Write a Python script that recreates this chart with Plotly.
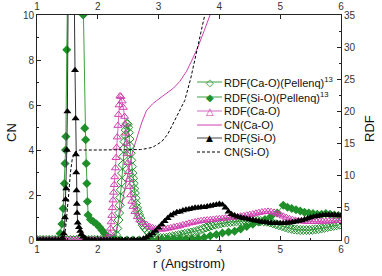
import plotly.graph_objects as go

# ---------------- data ----------------
# RDF(Si-O), this work (black filled triangles)
rdf_sio_r = [1.00,1.05,1.10,1.15,1.20,1.25,1.30,1.35,1.40,1.42,1.44,1.46,1.47,1.48,1.49,1.50,1.53,1.56,1.59,
             1.625,1.635,1.64,1.645,1.65,1.655,1.66,1.67,1.69,1.71,1.73,1.76,1.80,1.85,
             1.90,1.95,2.00,2.05,2.10,2.15,2.20,2.25,2.30,2.35,2.40,2.45,2.50,2.55,2.60,2.65,2.70,
             2.75,2.80,2.85,2.90,2.95,3.00,3.05,3.10,3.15,3.20,3.25,3.30,3.35,3.40,3.45,3.50,3.55,
             3.60,3.65,3.70,3.75,3.80,3.85,3.90,3.95,4.00,4.05,4.10,4.15,4.20,4.25,4.30,4.35,4.40,
             4.45,4.50,4.55,4.60,4.65,4.70,4.75,4.80,4.85,4.90,4.95,5.00,5.05,5.10,5.15,5.20,5.25,
             5.30,5.35,5.40,5.45,5.50,5.55,5.60,5.65,5.70,5.75,5.80,5.85,5.90,5.95,6.00]
rdf_sio_g = [0,0,0,0,0,0,0,0,0,0.3,1.0,3.5,6.3,8.0,14.0,20.0,60,110,60,
             26.4,18.9,13.3,10.5,7.7,5.6,4.2,2.7,2.0,1.4,0.9,0.5,0.2,0.05,
             0,0,0,0,0,0,0,0,0,0,0,0,0,0,0,0,0,
             0.2,0.4,0.7,1.0,1.4,1.9,2.4,2.9,3.4,3.8,4.1,4.3,4.4,4.6,4.7,4.8,4.9,
             5.0,5.0,5.1,5.1,5.2,5.3,5.4,5.5,5.6,5.5,5.0,4.4,4.0,3.8,3.6,3.5,3.4,
             3.3,3.2,3.1,3.0,2.9,2.8,2.75,2.7,2.65,2.6,2.6,2.6,2.6,2.65,2.7,2.75,2.85,
             2.95,3.05,3.2,3.35,3.5,3.6,3.7,3.8,3.85,3.9,3.9,3.9,3.9,3.85,3.8]

# RDF(Ca-O), this work (pink open triangles)
rdf_cao_r = [1.00,1.05,1.10,1.15,1.20,1.25,1.30,1.35,1.40,1.45,1.50,1.55,1.60,1.65,1.70,1.75,1.80,1.85,
             1.90,1.95,2.00,2.05,2.10,2.15,2.18,2.20,2.21,2.22,2.23,2.24,2.25,2.26,2.27,2.28,2.29,2.30,
             2.31,2.32,2.33,2.34,2.35,2.365,2.38,2.40,2.42,2.44,2.45,2.46,2.47,2.48,2.49,2.50,2.51,2.52,
             2.54,2.56,2.58,2.61,2.65,2.69,2.74,2.80,2.85,2.90,2.95,3.00,3.05,3.10,3.15,3.20,3.25,3.30,
             3.35,3.40,3.45,3.50,3.55,3.60,3.65,3.70,3.75,3.80,3.85,3.90,3.95,4.00,4.05,4.10,4.15,4.20,
             4.25,4.30,4.35,4.40,4.45,4.50,4.55,4.60,4.65,4.70,4.75,4.80,4.85,4.90,4.95,5.00,5.05,5.10,
             5.15,5.20,5.25,5.30,5.35,5.40,5.45,5.50,5.55,5.60,5.65,5.70,5.75,5.80,5.85,5.90,5.95,6.00]
rdf_cao_g = [0,0,0,0,0,0,0,0,0,0,0,0,0,0,0,0,0,0,
             0,0,0,0,0,0,0.3,1.0,1.8,2.8,3.8,5.0,6.2,7.4,8.6,9.8,11.2,12.8,
             14.4,16.0,17.8,19.5,21.0,22.4,22.3,21.6,20.6,19.2,18.0,16.6,15.0,13.4,12.0,10.6,9.4,8.3,
             7.0,6.0,5.2,4.4,3.6,3.1,2.7,2.4,2.1,1.9,1.75,1.7,1.65,1.7,1.8,1.9,2.0,2.1,
             2.2,2.35,2.45,2.6,2.7,2.8,2.9,3.0,3.05,3.1,3.15,3.2,3.25,3.3,3.35,3.4,3.45,3.5,
             3.55,3.6,3.7,3.75,3.85,3.95,4.05,4.15,4.25,4.35,4.4,4.45,4.4,4.3,4.1,3.9,3.7,3.5,
             3.3,3.15,3.05,3.0,2.95,2.9,2.85,2.85,2.85,2.85,2.9,2.9,2.9,2.95,2.95,3.0,3.0,3.0]

# RDF(Ca-O), Pellenq ref. 13 (green open diamonds)
pel_cao_r = [1.00,1.05,1.10,1.15,1.20,1.25,1.30,1.35,1.40,1.45,1.50,1.55,1.60,1.65,1.70,1.75,1.80,1.85,
             1.90,1.95,2.00,2.05,2.10,2.15,2.20,2.25,2.28,2.30,2.32,2.34,2.35,2.36,2.37,2.38,2.39,2.40,
             2.41,2.42,2.43,2.44,2.45,2.46,2.475,2.49,2.50,2.51,2.52,2.53,2.54,2.55,2.56,2.57,2.58,2.59,
             2.60,2.61,2.62,2.63,2.645,2.66,2.68,2.70,2.72,2.74,2.77,2.80,2.84,2.88,2.93,2.98,3.03,3.08,
             3.13,3.18,3.23,3.28,3.33,3.38,3.43,3.48,3.53,3.58,3.63,3.68,3.73,3.78,3.83,3.88,3.93,3.98,
             4.03,4.08,4.13,4.18,4.23,4.28,4.33,4.38,4.43,4.48,4.53,4.58,4.63,4.68,4.73,4.78,4.83,4.88,
             4.93,4.98,5.03,5.08,5.13,5.18,5.23,5.28,5.33,5.38,5.43,5.48,5.53,5.58,5.63,5.68,5.73,5.78,
             5.83,5.88,5.93,5.98]
pel_cao_g = [0,0,0,0,0,0,0,0,0,0,0,0,0,0,0,0,0,0,
             0,0,0,0,0,0,0,0,0.3,0.8,1.8,3.1,4.2,5.4,6.6,7.8,9.0,10.4,
             11.7,13.0,14.2,15.3,16.3,17.1,18.1,18.0,17.5,16.7,15.7,14.6,13.5,12.4,11.4,10.4,9.6,8.8,
             8.0,7.3,6.5,5.7,5.0,4.4,3.9,3.4,2.8,2.3,1.9,1.55,1.1,0.8,0.55,0.4,0.3,0.3,
             0.35,0.45,0.55,0.65,0.75,0.85,0.95,1.05,1.15,1.25,1.4,1.55,1.75,1.95,2.1,2.25,2.4,2.5,
             2.6,2.7,2.75,2.8,2.85,2.9,2.9,2.95,2.95,3.0,3.0,3.0,3.0,2.95,2.9,2.85,2.75,2.6,
             2.45,2.3,2.15,2.0,1.85,1.75,1.65,1.6,1.55,1.55,1.55,1.55,1.6,1.65,1.7,1.8,1.9,2.0,
             2.1,2.2,2.3,2.4]

# RDF(Si-O), Pellenq ref. 13 (green filled diamonds)
pel_sio_r = [1.00,1.10,1.20,1.30,1.35,1.38,1.41,1.43,1.45,1.46,1.47,1.475,1.49,1.55,1.62,1.70,1.76,
             1.785,1.80,1.81,1.82,1.83,1.84,1.88,1.93,1.98,2.03,2.07,2.11,2.15,2.20,2.28,2.38,2.48,
             2.58,2.68,2.78,2.88,2.98,3.05,3.15,3.25,3.35,3.45,3.55,3.65,3.75,3.85,3.95,4.05,4.15,
             4.25,4.35,4.45,4.55,4.65,4.75,4.85,4.95,5.05,5.12,5.19,5.26,5.33,5.40,5.47,5.54,5.61,
             5.68,5.75,5.82,5.89,5.96]
pel_sio_g = [0,0,0,0,0,1.0,2.5,4.9,8.8,11.9,14.0,16.1,29.6,70,95,70,35,
             17.4,15.6,11.9,8.8,6.0,3.9,3.2,2.85,2.5,2.0,1.5,1.0,0.6,0.3,0.1,0,0,
             0,0,0,0,0,0.05,0.1,0.1,0.15,0.15,0.2,0.25,0.4,0.65,0.85,1.1,1.25,
             1.35,1.7,2.1,2.45,2.8,3.2,3.7,4.2,5.4,5.1,4.9,4.7,4.5,4.3,4.2,4.1,4.0,
             4.0,4.1,4.0,3.9,3.8]

# CN(Ca-O) (pink solid line, left axis)
cn_cao_r = [1.00,2.20,2.25,2.30,2.35,2.40,2.45,2.50,2.58,2.65,2.72,2.80,2.90,2.97,3.10,3.24,3.35,3.46,
            3.55,3.65,3.75,3.85,3.90]
cn_cao_v = [0,0,0.1,0.4,1.0,1.7,2.4,3.0,4.0,4.6,5.2,5.75,6.05,6.2,6.45,6.74,7.05,7.5,
            8.0,8.6,9.3,10.0,10.4]

# CN(Si-O) (black dashed line, left axis)
cn_sio_r = [1.00,1.44,1.47,1.49,1.52,1.55,1.58,1.62,1.66,1.70,2.00,2.50,2.70,2.80,2.90,2.95,3.05,3.15,
            3.24,3.34,3.43,3.53,3.63,3.70,3.76,3.80]
cn_sio_v = [0,0,0.5,1.0,2.0,3.0,3.6,3.9,3.97,4.0,4.0,4.0,4.02,4.06,4.12,4.2,4.37,4.7,
            5.2,5.7,6.2,7.2,8.4,9.2,10.0,10.5]

x_ticks = [1, 2, 3, 4, 5, 6]
legend_labels = ["RDF(Ca-O)(Pellenq)<sup>13</sup>", "RDF(Si-O)(Pellenq)<sup>13</sup>",
                 "RDF(Ca-O)", "CN(Ca-O)", "RDF(Si-O)", "CN(Si-O)"]

# ---------------- styles ----------------
GREEN = "#1f8f2a"
GREEN_L = "#3aa040"
PINK = "#d040b0"
PINK_L = "#d468c0"
FONT = "Liberation Sans, Arial, sans-serif"
AX = "#222222"
TXT = "#111111"

fig = go.Figure()

# CN curves on the left axis
fig.add_trace(go.Scatter(x=cn_cao_r, y=cn_cao_v, xaxis="x", yaxis="y", mode="lines",
                         line=dict(color=PINK, width=1), showlegend=False))
fig.add_trace(go.Scatter(x=cn_sio_r, y=cn_sio_v, xaxis="x2", yaxis="y", mode="lines",
                         line=dict(color="#000000", width=1, dash="3px,2px"), showlegend=False))
# RDF curves on the right axis
fig.add_trace(go.Scatter(x=pel_cao_r, y=pel_cao_g, xaxis="x", yaxis="y2", mode="lines+markers",
                         line=dict(color=GREEN_L, width=1),
                         marker=dict(symbol="diamond-open", size=7, color=GREEN, line=dict(width=1)),
                         showlegend=False))
fig.add_trace(go.Scatter(x=pel_sio_r, y=pel_sio_g, xaxis="x", yaxis="y2", mode="lines+markers",
                         line=dict(color=GREEN_L, width=1),
                         marker=dict(symbol="diamond", size=7, color=GREEN),
                         showlegend=False))
fig.add_trace(go.Scatter(x=rdf_cao_r, y=rdf_cao_g, xaxis="x", yaxis="y2", mode="lines+markers",
                         line=dict(color=PINK_L, width=1),
                         marker=dict(symbol="triangle-up-open", size=7, color=PINK, line=dict(width=1)),
                         showlegend=False))
fig.add_trace(go.Scatter(x=rdf_sio_r, y=rdf_sio_g, xaxis="x", yaxis="y2", mode="lines+markers",
                         line=dict(color="#333333", width=1),
                         marker=dict(symbol="triangle-up", size=7, color="#000000"),
                         showlegend=False))

# ---------------- manual compact legend ----------------
def px_x(p):
    return (p - 37) / 304.0

def px_y(p):
    return (240 - p) / 225.0

rows = [82, 97, 111, 125, 138, 152]
line_styles = [dict(color=GREEN_L, width=1), dict(color=GREEN_L, width=1),
               dict(color=PINK_L, width=1), dict(color=PINK, width=1),
               dict(color="#444444", width=1), dict(color="#000000", width=1, dash="3px,2px")]
glyphs = [("◇", GREEN, 10), ("◆", GREEN, 10), ("△", PINK, 10), (None, None, None),
          ("▲", "#000000", 9), (None, None, None)]
shapes = []
annotations = []
for row, lab, ls, gl in zip(rows, legend_labels, line_styles, glyphs):
    shapes.append(dict(type="line", xref="paper", yref="paper",
                       x0=px_x(197), x1=px_x(222), y0=px_y(row), y1=px_y(row), line=ls))
    if gl[0] is not None:
        annotations.append(dict(xref="paper", yref="paper", x=px_x(209.5), y=px_y(row),
                                text=gl[0], showarrow=False, xanchor="center", yanchor="middle",
                                font=dict(family="DejaVu Sans", size=gl[2], color=gl[1])))
    annotations.append(dict(xref="paper", yref="paper", x=px_x(222), y=px_y(row),
                            text=lab, showarrow=False, xanchor="left", yanchor="middle",
                            font=dict(family=FONT, size=11, color=TXT)))

# axis titles placed as rotated annotations
annotations.append(dict(xref="paper", yref="paper", x=px_x(11), y=px_y(133), text="CN",
                        textangle=-90, showarrow=False, xanchor="center", yanchor="middle",
                        font=dict(family=FONT, size=13, color=TXT)))
annotations.append(dict(xref="paper", yref="paper", x=px_x(369), y=px_y(129), text="RDF",
                        textangle=-90, showarrow=False, xanchor="center", yanchor="middle",
                        font=dict(family=FONT, size=13, color=TXT)))

axis_common = dict(showline=True, linecolor=AX, linewidth=1, showgrid=False, zeroline=False,
                   ticks="inside", ticklen=4, tickcolor=AX, tickwidth=1, automargin=False,
                   tickfont=dict(family=FONT, size=10, color="#333333"))

fig.update_layout(
    width=382, height=276,
    margin=dict(l=37, r=41, t=15, b=36, autoexpand=False),
    paper_bgcolor="white", plot_bgcolor="white",
    showlegend=False,
    font=dict(family=FONT, color=TXT),
    xaxis=dict(range=[1, 6], tickvals=x_ticks, anchor="y",
               minor=dict(ticks="inside", dtick=0.5, ticklen=2, tickcolor=AX),
               title=dict(text="r (Angstrom)", font=dict(family=FONT, size=13, color=TXT),
                          standoff=4),
               **axis_common),
    xaxis2=dict(range=[1, 6], tickvals=x_ticks, overlaying="x", side="top", anchor="y",
                **axis_common),
    yaxis=dict(range=[0, 10], dtick=2, tick0=0, anchor="x",
               minor=dict(ticks="inside", dtick=1, ticklen=2, tickcolor=AX),
               **axis_common),
    yaxis2=dict(range=[0, 35], dtick=5, tick0=0, overlaying="y", side="right", anchor="x",
                minor=dict(ticks="inside", dtick=2.5, ticklen=2, tickcolor=AX),
                **axis_common),
    shapes=shapes,
    annotations=annotations,
)

fig.write_html("out.html", config={"displayModeBar": False, "staticPlot": True},
               post_script="document.body.style.margin='0';")
